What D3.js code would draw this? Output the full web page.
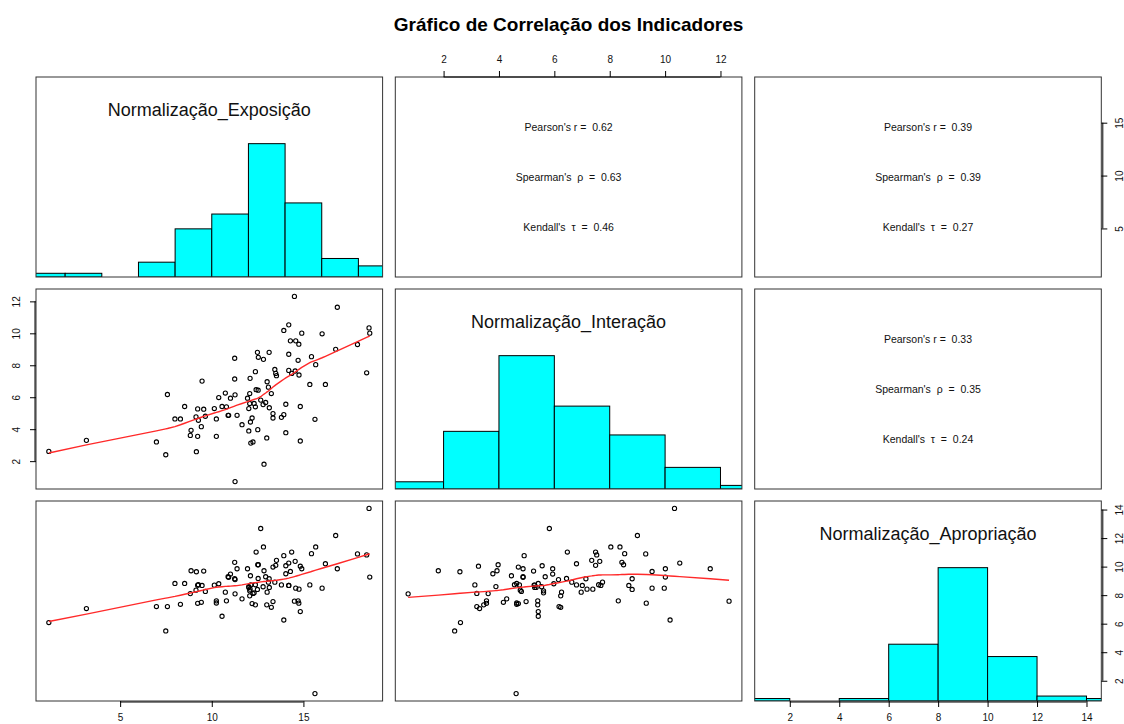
<!DOCTYPE html>
<html><head><meta charset="utf-8">
<script src="https://cdn.jsdelivr.net/npm/d3@7"></script>
<style>
body{margin:0;background:#fff;}
svg{display:block;}
text{font-family:"Liberation Sans",Arial,Helvetica,sans-serif;}
</style></head><body>
<svg id="chart" width="1124" height="724"></svg>
<script>
// ---------------- DATA ----------------
const title = "Gráfico de Correlação dos Indicadores";
const variables = ["Normalização_Exposição", "Normalização_Interação", "Normalização_Apropriação"];

const exposicao = [1.11,3.16,6.98,7.49,7.58,7.99,8.29,8.52,8.87,8.83,9.14,9.23,9.27,9.23,9.16,9.43,9.47,9.56,9.65,10.14,
  10.25,10.25,10.38,10.56,10.74,10.80,10.89,10.92,11.02,11.25,11.25,11.27,11.27,11.38,11.65,11.95,12.02,12.07,12.09,12.02,
  12.07,12.11,12.13,12.20,12.25,12.31,12.38,12.38,12.42,12.49,12.54,12.51,12.67,12.82,12.80,12.85,12.94,13.00,13.02,13.09,
  13.13,13.25,13.34,13.34,13.44,13.53,13.49,13.80,13.93,13.93,14.04,14.04,14.20,14.20,14.20,14.29,14.36,14.51,14.58,14.71,
  14.75,14.76,14.83,14.83,14.91,15.35,15.44,15.63,15.67,16.02,16.20,16.76,16.85,17.95,18.45,18.58,18.62,14.55,12.53,13.14];

const interacao = [2.61,3.30,3.20,2.40,6.17,4.64,4.64,5.42,3.93,3.61,4.77,5.27,4.56,3.55,2.59,4.16,7.01,5.25,4.81,5.29,
  4.64,3.55,5.98,5.42,6.26,5.40,4.87,4.87,5.94,7.14,8.44,6.15,0.72,4.87,4.28,5.94,3.89,6.23,7.18,5.29,
  5.61,4.45,3.13,4.70,3.20,5.61,5.40,7.60,6.47,8.81,8.50,3.97,5.82,8.37,5.54,1.81,5.67,3.45,6.97,6.63,
  8.81,6.23,4.98,4.70,7.74,7.35,7.49,4.74,4.91,10.18,5.56,3.78,8.69,10.53,7.68,9.53,7.49,12.31,9.53,8.31,
  9.32,7.39,5.42,3.26,10.01,6.80,8.54,4.62,8.04,9.97,6.80,9.00,11.63,9.30,7.53,10.34,10.01,7.64,6.44,5.34];

const apropriacao = [6.08,7.06,7.20,5.49,7.20,8.82,7.36,8.82,9.71,8.11,8.35,8.70,8.73,7.43,9.64,7.50,8.68,9.69,8.26,8.70,
  7.45,7.60,8.80,6.52,8.21,7.60,9.29,9.25,9.48,9.15,10.30,9.09,8.09,9.85,7.74,9.85,8.60,7.95,8.42,8.54,
  8.30,9.36,8.72,7.41,8.12,8.16,7.32,8.73,11.02,8.40,10.13,10.13,12.67,11.38,8.59,9.71,9.29,7.32,8.21,8.91,
  9.15,7.15,7.55,9.97,8.91,10.44,10.09,8.72,10.77,6.26,10.06,9.50,8.68,10.25,8.68,9.66,11.02,7.58,8.49,7.60,
  7.44,8.42,6.85,10.03,9.85,8.72,10.91,1.10,11.38,8.49,10.20,12.18,9.85,10.89,10.82,14.08,9.27,10.37,9.17,8.54];

// correlations for pairs (Exp,Int), (Exp,Apr), (Int,Apr)
const pearsonR   = ["0.62", "0.39", "0.33"];
const spearmanRho = ["0.63", "0.39", "0.35"];
const kendallTau = ["0.46", "0.27", "0.24"];

const ticksExposicao = [5, 10, 15];
const ticksInteracao = [2, 4, 6, 8, 10, 12];
const ticksApropriacao = [2, 4, 6, 8, 10, 12, 14];

// ---------------- LAYOUT ----------------
const data = [exposicao, interacao, apropriacao];
const colX = [36, 395.3, 754.7], panelW = 346.6;
const rowY = [77, 289, 501], panelH = 200;
const FONT = '"Liberation Sans",Arial,Helvetica,sans-serif';

const svg = d3.select("#chart");
svg.append("rect").attr("width",1124).attr("height",724).attr("fill","#fff");

function ext(a){ const mn=d3.min(a), mx=d3.max(a), s=mx-mn; return [mn-0.04*s, mx+0.04*s]; }
const xS = data.map((d,k)=>d3.scaleLinear().domain(ext(d)).range([colX[k], colX[k]+panelW]));
const yS = data.map((d,k)=>d3.scaleLinear().domain(ext(d)).range([rowY[k]+panelH, rowY[k]]));

// R-style lowess
function lowess(xs, ys, f=2/3, nsteps=3){
  const n = xs.length;
  const order = d3.range(n).sort((a,b)=>xs[a]-xs[b]);
  const x = order.map(i=>xs[i]), y = order.map(i=>ys[i]);
  const out = new Array(n).fill(0), rw = new Array(n).fill(1), res = new Array(n).fill(0);
  const ns = Math.max(2, Math.min(n, Math.floor(f*n+1e-7)));
  const range = x[n-1]-x[0], delta = 0.01*range;
  function lowest(xv, nleft, nright, userw){
    const h = Math.max(xv - x[nleft], x[nright] - xv);
    const h9 = 0.999*h, h1 = 0.001*h;
    const w = new Array(n).fill(0);
    let a = 0, j = nleft;
    while (j < n){
      const r = Math.abs(x[j]-xv);
      if (r <= h9){
        w[j] = r <= h1 ? 1 : Math.pow(1-Math.pow(r/h,3),3);
        if (userw) w[j] *= rw[j];
        a += w[j];
      } else if (x[j] > xv) break;
      j++;
    }
    const nrt = j-1;
    if (a <= 0) return null;
    for (let k=nleft;k<=nrt;k++) w[k] /= a;
    if (h > 0){
      let aa = 0; for (let k=nleft;k<=nrt;k++) aa += w[k]*x[k];
      let b = xv - aa, c = 0;
      for (let k=nleft;k<=nrt;k++) c += w[k]*(x[k]-aa)*(x[k]-aa);
      if (Math.sqrt(c) > 0.001*range){ b /= c; for (let k=nleft;k<=nrt;k++) w[k] *= (b*(x[k]-aa)+1); }
    }
    let s = 0; for (let k=nleft;k<=nrt;k++) s += w[k]*y[k];
    return s;
  }
  for (let iter=1; iter<=nsteps+1; iter++){
    let nleft=0, nright=ns-1, last=-1, i=0;
    for(;;){
      if (nright < n-1){
        const d1 = x[i]-x[nleft], d2 = x[nright+1]-x[i];
        if (d1 > d2){ nleft++; nright++; continue; }
      }
      const v = lowest(x[i], nleft, nright, iter>1);
      out[i] = v === null ? y[i] : v;
      if (last < i-1){
        const denom = x[i]-x[last];
        for (let j=last+1;j<i;j++){ const al=(x[j]-x[last])/denom; out[j]=al*out[i]+(1-al)*out[last]; }
      }
      last = i;
      const cut = x[last]+delta;
      for (i=last+1; i<n; i++){
        if (x[i] > cut) break;
        if (x[i] === x[last]){ out[i]=out[last]; last=i; }
      }
      i = Math.max(last+1, i-1);
      if (last >= n-1) break;
    }
    for (let k=0;k<n;k++) res[k] = y[k]-out[k];
    const sc = d3.sum(res, r=>Math.abs(r))/n;
    if (iter > nsteps) break;
    const ar = res.map(Math.abs).sort((a,b)=>a-b);
    const m1 = Math.floor(n/2);
    let cmad;
    if (n%2===0){ const m2 = n-m1-1; cmad = 3*(ar[m1]+ar[m2]); } else cmad = 6*ar[m1];
    if (cmad < 1e-7*sc) break;
    const c9 = 0.999*cmad, c1 = 0.001*cmad;
    for (let k=0;k<n;k++){ const r=Math.abs(res[k]); rw[k] = r<=c1 ? 1 : (r<=c9 ? Math.pow(1-Math.pow(r/cmad,2),2) : 0); }
  }
  return x.map((xv,k)=>[xv,out[k]]);
}

const defs = svg.append("defs");

for (let i=0;i<3;i++){
  for (let j=0;j<3;j++){
    const x0 = colX[j], y0 = rowY[i];
    const cid = `clip-${i}-${j}`;
    defs.append("clipPath").attr("id",cid).append("rect")
      .attr("x",x0).attr("y",y0).attr("width",panelW).attr("height",panelH);
    const g = svg.append("g");
    const inner = g.append("g").attr("clip-path",`url(#${cid})`);
    if (i === j){
      const vals = data[i];
      const mn = d3.min(vals), mx = d3.max(vals);
      const step = d3.tickStep(mn, mx, 8);
      const lo = Math.floor(mn/step)*step, hi = Math.ceil(mx/step)*step;
      const bins = d3.bin().domain([lo,hi]).thresholds(d3.range(lo+step, hi-step/2, step))(vals);
      const maxC = d3.max(bins, b=>b.length);
      const yH = d3.scaleLinear().domain([0,1.5]).range([y0+panelH, y0]);
      inner.selectAll("rect.bar").data(bins).join("rect").attr("class","bar")
        .attr("x", b=>xS[i](b.x0)).attr("width", b=>xS[i](b.x1)-xS[i](b.x0))
        .attr("y", b=>yH(b.length/maxC)).attr("height", b=>yH(0)-yH(b.length/maxC))
        .attr("fill","#00FFFF").attr("stroke","#000").attr("stroke-width",1);
      g.append("text").attr("x", x0+panelW/2).attr("y", y0+33).attr("dy","0.35em")
        .attr("text-anchor","middle").attr("font-size","18px").attr("fill","#111")
        .text(variables[i]);
    } else if (i > j){
      const xs = data[j], ys = data[i];
      inner.selectAll("circle").data(d3.range(xs.length)).join("circle")
        .attr("cx", k=>xS[j](xs[k])).attr("cy", k=>yS[i](ys[k])).attr("r",2.1)
        .attr("fill","none").attr("stroke","#000").attr("stroke-width",1.1);
      const lw = lowess(xs, ys);
      inner.append("path").datum(lw)
        .attr("d", d3.line().x(p=>xS[j](p[0])).y(p=>yS[i](p[1])))
        .attr("fill","none").attr("stroke","#ff2a2a").attr("stroke-width",1.4);
    } else {
      const pi = (i===0 && j===1) ? 0 : (i===0 && j===2) ? 1 : 2;
      const lines = [`Pearson's r =  ${pearsonR[pi]}`, `Spearman's  ρ  =  ${spearmanRho[pi]}`, `Kendall's  τ  =  ${kendallTau[pi]}`];
      lines.forEach((t,k)=>{
        g.append("text").attr("x", x0+panelW/2).attr("y", y0+panelH*(0.25+0.25*k)).attr("dy","0.35em")
          .attr("text-anchor","middle").attr("font-size","10.5px").attr("fill","#111")
          .style("white-space","pre").text(t);
      });
    }
    g.append("rect").attr("x",x0).attr("y",y0).attr("width",panelW).attr("height",panelH)
      .attr("fill","none").attr("stroke","#333").attr("stroke-width",1);
  }
}

// ---------------- AXES ----------------
function styleAxis(g, orient, ticks, scale){
  g.select(".domain").remove();
  g.selectAll(".tick line").attr("stroke","#000");
  g.selectAll(".tick text").attr("fill","#111").attr("font-size","10px").style("font-family",FONT);
  const a = scale(ticks[0]), b = scale(ticks[ticks.length-1]);
  if (orient==="top"){
    g.append("line").attr("x1",a).attr("x2",b).attr("y1",0).attr("y2",0).attr("stroke","#000");
    g.selectAll(".tick text").attr("y",-18).attr("dy","0.35em");
  } else if (orient==="bottom"){
    g.append("line").attr("x1",a).attr("x2",b).attr("y1",1).attr("y2",1).attr("stroke","#000");
    g.selectAll(".tick text").attr("y",16).attr("dy","0.35em");
  } else if (orient==="left"){
    g.append("line").attr("y1",a).attr("y2",b).attr("x1",-1).attr("x2",-1).attr("stroke","#000");
    g.selectAll(".tick text").attr("x",0).attr("y",0).attr("dy","0.35em")
      .attr("text-anchor","middle").attr("transform","translate(-20,0) rotate(-90)");
  } else {
    g.append("line").attr("y1",a).attr("y2",b).attr("x1",1.5).attr("x2",1.5).attr("stroke","#000");
    g.selectAll(".tick text").attr("x",0).attr("y",0).attr("dy","0.35em")
      .attr("text-anchor","middle").attr("transform","translate(18,0) rotate(-90)");
  }
}
const fmt = d3.format("d");
let ag;
ag = svg.append("g").attr("transform",`translate(0,${rowY[0]})`)
  .call(d3.axisTop(xS[1]).tickValues(ticksInteracao).tickSize(6).tickFormat(fmt));
styleAxis(ag,"top",ticksInteracao,xS[1]);

ag = svg.append("g").attr("transform",`translate(0,${rowY[2]+panelH})`)
  .call(d3.axisBottom(xS[0]).tickValues(ticksExposicao).tickSize(6).tickFormat(fmt));
styleAxis(ag,"bottom",ticksExposicao,xS[0]);

ag = svg.append("g").attr("transform",`translate(0,${rowY[2]+panelH})`)
  .call(d3.axisBottom(xS[2]).tickValues(ticksApropriacao).tickSize(6).tickFormat(fmt));
styleAxis(ag,"bottom",ticksApropriacao,xS[2]);

ag = svg.append("g").attr("transform",`translate(${colX[0]},0)`)
  .call(d3.axisLeft(yS[1]).tickValues(ticksInteracao).tickSize(6).tickFormat(fmt));
styleAxis(ag,"left",ticksInteracao,yS[1]);

ag = svg.append("g").attr("transform",`translate(${colX[2]+panelW},0)`)
  .call(d3.axisRight(yS[0]).tickValues(ticksExposicao).tickSize(6).tickFormat(fmt));
styleAxis(ag,"right",ticksExposicao,yS[0]);

ag = svg.append("g").attr("transform",`translate(${colX[2]+panelW},0)`)
  .call(d3.axisRight(yS[2]).tickValues(ticksApropriacao).tickSize(6).tickFormat(fmt));
styleAxis(ag,"right",ticksApropriacao,yS[2]);

// ---------------- TITLE ----------------
svg.append("text").attr("x", colX[1]+panelW/2).attr("y", 24).attr("dy","0.35em")
  .attr("text-anchor","middle").attr("font-size","19px").attr("font-weight","bold").attr("fill","#000")
  .text(title);
</script>
</body></html>
